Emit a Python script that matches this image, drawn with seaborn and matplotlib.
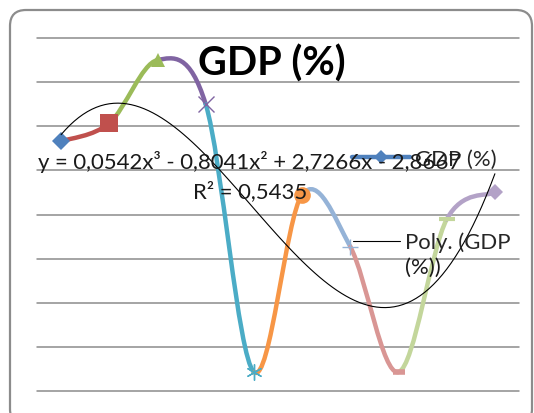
import numpy as np
import matplotlib
matplotlib.use("Agg")
import matplotlib.pyplot as plt
import seaborn as sns
from matplotlib.path import Path
from matplotlib.patches import PathPatch, FancyBboxPatch
from matplotlib.lines import Line2D
from matplotlib.transforms import IdentityTransform

# ---- data ----
periods = [1, 2, 3, 4, 5, 6, 7, 8, 9, 10]
gdp = [-0.34, 0.07, 1.50, 0.50, -5.57, -1.55, -2.73, -5.57, -2.11, -1.50]
point_colors = ["#4F81BD", "#C0504D", "#9BBB59", "#8064A2", "#4BACC6",
                "#F79646", "#95B3D7", "#D99694", "#C3D69B", "#B3A2C7"]
point_markers = ["D", "s", "^", "x", (6, 2, 0), "o", "+", "_", "_", "D"]
marker_sizes = [8.7, 13, 10, 11.5, 11.5, 12, 11, 8, 11, 8]
title = "GDP (%)"
equation = "y = 0,0542x³ - 0,8041x² + 2,7266x - 2,8667\nR² = 0,5435"
legend_labels = ["GDP (%)", "Poly. (GDP", "(%))"]
y_grid = [-6, -5, -4, -3, -2, -1, 0, 1, 2]

sns.set_theme(style="white")
plt.rcParams['font.family'] = ['Lato', 'DejaVu Sans']

W, H = 534, 414
FS = 15.9
fig = plt.figure(figsize=(W / 100, H / 100), dpi=100)
fig.patch.set_facecolor("white")
ax = fig.add_axes([37 / W, 1 - 392 / H, (519 - 37) / W, (392 - 39) / H])
ax.set_xlim(0.5, 10.5)
ax.set_ylim(min(y_grid), max(y_grid))
ax.set_yticks(y_grid)
ax.set_xticks([])
ax.grid(axis="y", color="#8c8c8c", lw=1.1)
for gl in ax.get_ygridlines():
    gl.set_clip_on(False)
ax.tick_params(left=False, bottom=False, labelleft=False, labelbottom=False)
for s in ax.spines.values():
    s.set_visible(False)
ax.set_facecolor("none")

# ---- smoothed line, each segment coloured by its end point ----
P = np.column_stack([np.array(periods, float), np.array(gdp, float)])
T = np.zeros_like(P)
T[1:-1] = (P[2:] - P[:-2]) / 2
T[0] = (P[1] - P[0]) / 2
T[-1] = (P[-1] - P[-2]) / 2
codes = [Path.MOVETO, Path.CURVE4, Path.CURVE4, Path.CURVE4]
for i in range(len(P) - 1):
    verts = [P[i], P[i] + T[i] / 3, P[i + 1] - T[i + 1] / 3, P[i + 1]]
    ax.add_patch(PathPatch(Path(verts, codes), fill=False, ec=point_colors[i + 1],
                           lw=3.2, capstyle="round", joinstyle="round", zorder=2))

# ---- markers ----
for xv, yv, c, m, ms in zip(periods, gdp, point_colors, point_markers, marker_sizes):
    if m in ("x", "+", (6, 2, 0)):
        ax.plot([xv], [yv], ls="none", marker=m, ms=ms, mew=1.0, color=c, zorder=3)
    elif m == "_":
        ax.plot([xv], [yv], ls="none", marker=m, ms=ms, mew=4 if ms < 10 else 3, color=c, zorder=3)
    else:
        ax.plot([xv], [yv], ls="none", marker=m, ms=ms, mew=0, color=c, zorder=3)

# ---- polynomial trendline (order 3) ----
sns.regplot(x=periods, y=gdp, order=3, ci=None, scatter=False, truncate=True,
            line_kws=dict(color="black", lw=0.8, zorder=4), ax=ax)
ax.set_xlim(0.5, 10.5)
ax.set_ylim(min(y_grid), max(y_grid))
ax.set_xlabel("")
ax.set_ylabel("")

# ---- texts ----
fig.text(272 / W, 1 - 64 / H, title, ha="center", va="center",
         fontsize=28.5, fontweight="bold", color="black")
fig.text(250 / W, 1 - 198 / H, equation, ha="center", va="baseline",
         multialignment="center", linespacing=1.5, fontsize=FS, color="#1a1a1a", zorder=5)

# ---- legend ----
h1 = Line2D([], [], color=point_colors[0], lw=3.2, marker="D", ms=7, mew=0)
fs_px = FS / 0.72
leg1 = ax.legend([h1], [legend_labels[0]], loc="center left",
                 bbox_to_anchor=(352 / W, 1 - 160 / H), bbox_transform=fig.transFigure,
                 frameon=False, handlelength=58 / fs_px, handletextpad=5 / fs_px,
                 borderpad=0, borderaxespad=0, fontsize=FS)
ax.add_artist(leg1)
h2 = Line2D([], [], color="black", lw=0.8)
leg2 = ax.legend([h2], [legend_labels[1]], loc="center left",
                 bbox_to_anchor=(353 / W, 1 - 243 / H), bbox_transform=fig.transFigure,
                 frameon=False, handlelength=47 / fs_px, handletextpad=5 / fs_px,
                 borderpad=0, borderaxespad=0, fontsize=FS)
fig.text(405 / W, 1 - 268 / H, legend_labels[2], ha="left", va="center", fontsize=FS, color="#1a1a1a")

# ---- chart frame ----
frame = FancyBboxPatch((10, -12), 522, 414 - 11 + 12,
                       boxstyle="round,pad=0,rounding_size=16",
                       transform=IdentityTransform(), fill=False,
                       ec="#8c8c8c", lw=1.6)
fig.add_artist(frame)

fig.savefig("out.png", dpi=100)
